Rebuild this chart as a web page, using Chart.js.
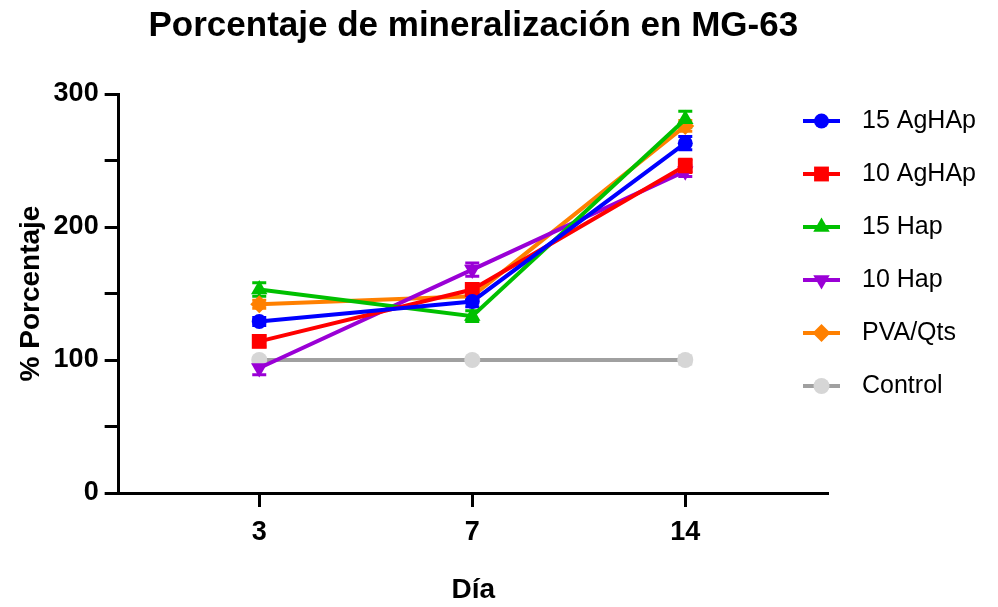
<!DOCTYPE html>
<html>
<head>
<meta charset="utf-8">
<script src="https://cdn.jsdelivr.net/npm/chart.js@4/dist/chart.umd.min.js"></script>
<style>
  html, body { margin: 0; padding: 0; background: #fff; }
  #wrap { width: 998px; height: 607px; }
</style>
</head>
<body>
<div id="wrap"><canvas id="chart"></canvas></div>
<script>
// datos (día 3, 7, 14)
var dias = ['3', '7', '14'];
var nombres = ['15 AgHAp', '10 AgHAp', '15 Hap', '10 Hap', 'PVA/Qts', 'Control'];

var ag15 = [129, 144, 263];
var ag10 = [114, 153, 246];
var hap15 = [153, 133, 281];
var hap10 = [94, 168, 242];
var pvaQts = [142, 148, 276];
var control = [100, 100, 100];

// error (± SD aprox.)
var ag15Err = [3, 4, 5];
var ag10Err = [4, 4, 5];
var hap15Err = [5, 4, 6];
var hap10Err = [5, 5, 4];
var pvaQtsErr = [3, 3, 4];
var controlErr = [2, 2, 3];

var yTicks = [0, 100, 200, 300];

var fuente = "'Liberation Sans', Arial, sans-serif";

function puntos(arr) {
    return arr.map(function (v, i) { return { x: i, y: v }; });
}

function serie(label, valores, errores, linea, marcador, estilo, radio, rot) {
    return {
        label: label,
        data: puntos(valores),
        err: errores,
        borderColor: linea,
        backgroundColor: marcador,
        pointBackgroundColor: marcador,
        pointBorderColor: marcador,
        pointStyle: estilo,
        pointRadius: radio,
        pointRotation: rot || 0,
        pointBorderWidth: 0,
        borderWidth: 4,
        tension: 0
    };
}

var datasets = [
    serie(nombres[0], ag15, ag15Err, '#0000ff', '#0000ff', 'circle', 7.5),
    serie(nombres[1], ag10, ag10Err, '#ff0000', '#ff0000', 'rect', 10.5),
    serie(nombres[2], hap15, hap15Err, '#00c000', '#00c000', 'triangle', 9.5),
    serie(nombres[3], hap10, hap10Err, '#9a00d6', '#9a00d6', 'triangle', 9.5, 180),
    serie(nombres[4], pvaQts, pvaQtsErr, '#ff8000', '#ff8000', 'rectRot', 9),
    serie(nombres[5], control, controlErr, '#a0a0a0', '#d6d6d6', 'circle', 8)
];

// barras de error
var barrasError = {
    id: 'barrasError',
    beforeDatasetsDraw: function (chart) {
        var ctx = chart.ctx;
        var xs = chart.scales.x, ys = chart.scales.y;
        ctx.save();
        chart.data.datasets.forEach(function (ds) {
            ctx.strokeStyle = ds.pointBackgroundColor;
            ctx.lineWidth = 3;
            ds.data.forEach(function (p, i) {
                var px = xs.getPixelForValue(p.x);
                var top = ys.getPixelForValue(p.y + ds.err[i]);
                var bot = ys.getPixelForValue(p.y - ds.err[i]);
                ctx.beginPath();
                ctx.moveTo(px, top); ctx.lineTo(px, bot);
                ctx.moveTo(px - 7, top); ctx.lineTo(px + 7, top);
                ctx.moveTo(px - 7, bot); ctx.lineTo(px + 7, bot);
                ctx.stroke();
            });
        });
        ctx.restore();
    }
};

// leyenda a la derecha (línea + marcador)
var leyenda = {
    id: 'leyenda',
    afterDraw: function (chart) {
        var ctx = chart.ctx;
        var a = chart.chartArea;
        var x0 = a.right - 25;
        var y0 = a.top + 27;
        ctx.save();
        chart.data.datasets.forEach(function (ds, i) {
            var y = y0 + i * 53;
            ctx.strokeStyle = ds.borderColor;
            ctx.lineWidth = 4;
            ctx.beginPath();
            ctx.moveTo(x0, y); ctx.lineTo(x0 + 37, y);
            ctx.stroke();
            ctx.fillStyle = ds.pointBackgroundColor;
            Chart.helpers.drawPoint(ctx, {
                pointStyle: ds.pointStyle,
                radius: ds.pointRadius,
                rotation: ds.pointRotation,
                borderWidth: 0
            }, x0 + 18.5, y);
            ctx.fillStyle = '#000';
            ctx.font = '25px ' + fuente;
            ctx.textBaseline = 'middle';
            ctx.textAlign = 'left';
            ctx.fillText(ds.label, x0 + 59, y);
        });
        ctx.restore();
    }
};

var ctx = document.getElementById('chart').getContext('2d');
const chart = new Chart(ctx, {
    type: 'line',
    data: { datasets: datasets },
    options: {
        responsive: true,
        maintainAspectRatio: false,
        animation: false,
        layout: { padding: { left: 4, right: 170, top: 0, bottom: 0 } },
        plugins: {
            legend: { display: false },
            tooltip: { enabled: false },
            title: {
                display: true,
                text: 'Porcentaje de mineralización en MG-63',
                color: '#000',
                fullSize: false,
                font: { family: fuente, size: 35, weight: 'bold' },
                padding: { top: 5, bottom: 47 }
            }
        },
        scales: {
            x: {
                type: 'linear',
                min: -0.66,
                max: 2.67,
                afterBuildTicks: function (axis) {
                    axis.ticks = dias.map(function (d, i) { return { value: i }; });
                },
                ticks: {
                    color: '#000',
                    padding: 9,
                    font: { family: fuente, size: 27, weight: 'bold' },
                    callback: function (v) { return dias[v]; }
                },
                grid: { drawOnChartArea: false, color: '#000', tickLength: 14, tickWidth: 3 },
                border: { color: '#000', width: 3 },
                title: {
                    display: true,
                    text: 'Día',
                    color: '#000',
                    font: { family: fuente, size: 28, weight: 'bold' },
                    padding: { top: 16, bottom: 0 }
                }
            },
            y: {
                min: 0,
                max: 300,
                afterBuildTicks: function (axis) {
                    var t = [];
                    for (var v = 0; v <= 300; v += 50) t.push({ value: v });
                    axis.ticks = t;
                },
                ticks: {
                    color: '#000',
                    padding: 6,
                    font: { family: fuente, size: 27, weight: 'bold' },
                    callback: function (v) { return yTicks.indexOf(v) >= 0 ? String(v) : ''; }
                },
                grid: { drawOnChartArea: false, color: '#000', tickLength: 14, tickWidth: 3 },
                border: { color: '#000', width: 3 },
                title: {
                    display: true,
                    text: '% Porcentaje',
                    color: '#000',
                    font: { family: fuente, size: 28, weight: 'bold' },
                    padding: { top: 10, bottom: 0 }
                }
            }
        }
    },
    plugins: [barrasError, leyenda]
});
</script>
</body>
</html>
